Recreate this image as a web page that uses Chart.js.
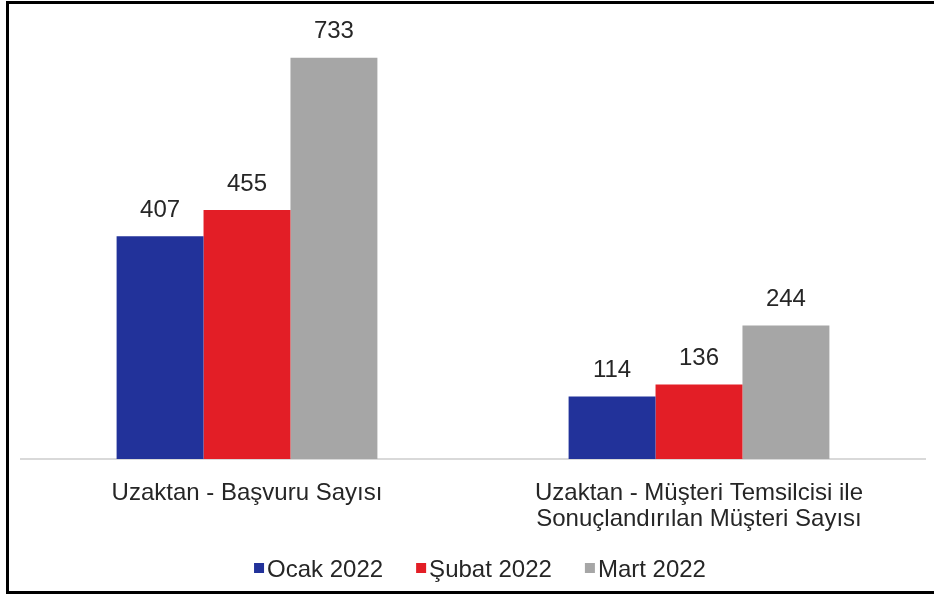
<!DOCTYPE html>
<html>
<head>
<meta charset="utf-8">
<script src="https://cdn.jsdelivr.net/npm/chart.js@4/dist/chart.umd.min.js"></script>
<style>
  html, body { margin: 0; padding: 0; background: #fff; }
  #wrap { position: relative; width: 934px; height: 597px; overflow: hidden; }
  #frame { position: absolute; left: 6px; top: 1px; width: 940px; height: 593px; border: 3px solid #000; box-sizing: border-box; pointer-events: none; }
  canvas { position: absolute; left: 0; top: 0; }
</style>
</head>
<body>
<div id="wrap">
  <canvas id="c" width="934" height="597"></canvas>
  <div id="frame"></div>
</div>
<script>
const categories = [
  'Uzaktan - Başvuru Sayısı',
  ['Uzaktan - Müşteri Temsilcisi ile', 'Sonuçlandırılan Müşteri Sayısı']
];
const seriesNames = ['Ocak 2022', 'Şubat 2022', 'Mart 2022'];
const ocak = [407, 114];
const subat = [455, 136];
const mart = [733, 244];
const colors = ['#22329a', '#e31e26', '#a6a6a6'];

const FONT = '"Liberation Sans", Arial, sans-serif';
const TEXT = '#262626';

// Value labels drawn above every bar
const valueLabels = {
  id: 'valueLabels',
  afterDatasetsDraw(chart) {
    const ctx = chart.ctx;
    ctx.save();
    ctx.font = '24px ' + FONT;
    ctx.fillStyle = TEXT;
    ctx.textAlign = 'center';
    ctx.textBaseline = 'middle';
    chart.data.datasets.forEach((ds, i) => {
      chart.getDatasetMeta(i).data.forEach((bar, j) => {
        ctx.fillText(String(ds.data[j]), bar.x, bar.y - 26);
      });
    });
    ctx.restore();
  }
};

// Compact legend row under the axis labels: small square, then the series name
const compactLegend = {
  id: 'compactLegend',
  afterDraw(chart) {
    const ctx = chart.ctx;
    const box = 10, gapText = 3, gapItem = 33, centerX = 480, centerY = 569;
    ctx.save();
    ctx.font = '24px ' + FONT;
    ctx.textBaseline = 'middle';
    ctx.textAlign = 'left';
    const items = chart.data.datasets.map(ds => ({
      text: ds.label, color: ds.backgroundColor, w: ctx.measureText(ds.label).width
    }));
    const total = items.reduce((s, it) => s + box + gapText + it.w, 0) + gapItem * (items.length - 1);
    let x = centerX - total / 2;
    items.forEach(it => {
      ctx.fillStyle = it.color;
      ctx.fillRect(x, centerY - box / 2 - 1, box, box);
      x += box + gapText;
      ctx.fillStyle = TEXT;
      ctx.fillText(it.text, x, centerY + 1);
      x += it.w + gapItem;
    });
    ctx.restore();
  }
};

new Chart(document.getElementById('c'), {
  type: 'bar',
  data: {
    labels: categories,
    datasets: [
      { label: seriesNames[0], data: ocak, backgroundColor: colors[0] },
      { label: seriesNames[1], data: subat, backgroundColor: colors[1] },
      { label: seriesNames[2], data: mart, backgroundColor: colors[2] }
    ]
  },
  options: {
    responsive: false,
    animation: false,
    events: [],
    layout: { padding: { left: 21, right: 9, top: 21, bottom: 0 } },
    datasets: { bar: { categoryPercentage: 0.577, barPercentage: 1.0 } },
    scales: {
      x: {
        grid: { display: false, drawTicks: false },
        border: { display: true, color: '#d9d9d9', width: 2 },
        ticks: {
          color: TEXT,
          font: { family: FONT, size: 24, lineHeight: 1.083 },
          padding: 21,
          maxRotation: 0,
          autoSkip: false
        },
        afterFit(scale) { scale.height = 138; }
      },
      y: {
        display: false,
        min: 0,
        max: 800
      }
    },
    plugins: {
      tooltip: { enabled: false },
      legend: { display: false }
    }
  },
  plugins: [valueLabels, compactLegend]
});
</script>
</body>
</html>
